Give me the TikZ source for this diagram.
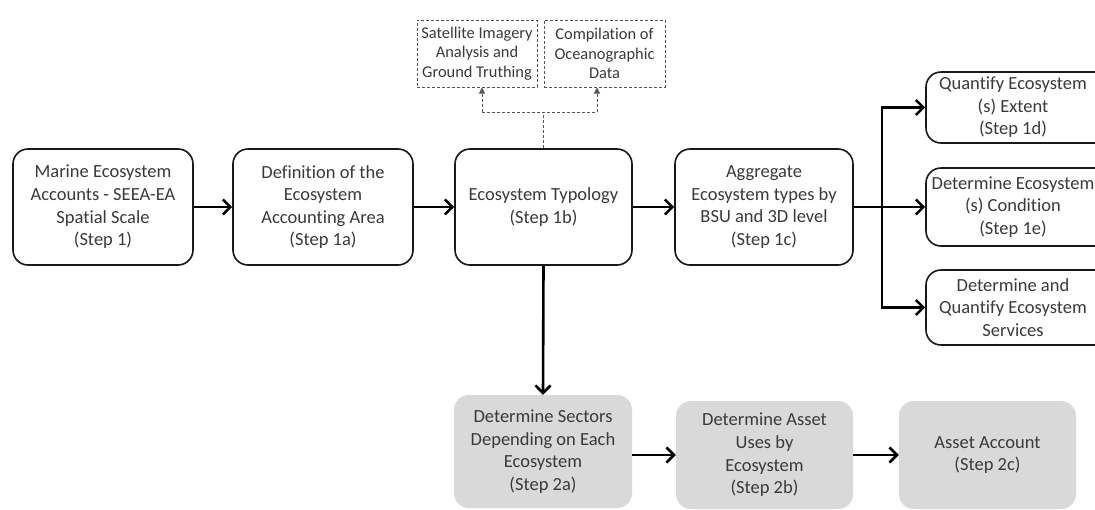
\documentclass[tikz,border=0pt]{standalone}
\usepackage{fontspec}
\setmainfont{Carlito}[Ligatures={NoCommon}]
\usetikzlibrary{arrows.meta,calc}
\definecolor{txt}{HTML}{3A3A3A}
\definecolor{boxgray}{HTML}{D9D9D9}
\definecolor{dashc}{HTML}{555555}
\tikzset{
  mainbox/.style={draw=black!90, line width=1.6pt, rounded corners=15pt, align=center,
    text=txt, inner sep=0pt, font=\fontsize{18.5}{22.6}\selectfont},
  graybox/.style={fill=boxgray, draw=none, rounded corners=15pt, align=center,
    text=txt, inner sep=0pt, font=\fontsize{18.5}{22.6}\selectfont},
  dbox/.style={draw=dashc, line width=1pt, dash pattern=on 3pt off 2pt, align=center,
    text=txt, inner sep=0pt, font=\fontsize{16.4}{19.6}\selectfont},
  arr/.style={line width=2.6pt, -{Straight Barb[length=7.5pt,width=15pt,line width=2.6pt]}},
  plain/.style={line width=2.6pt},
  dline/.style={draw=dashc, line width=1pt, dash pattern=on 3pt off 2pt},
  darr/.style={dline, -{Triangle[length=6pt,width=6pt]}}
}
\begin{document}
\begin{tikzpicture}[x=1pt,y=-1pt]
\useasboundingbox (0,0) rectangle (1095,509);
\clip (0,0) rectangle (1095,509);
\fill[white] (0,0) rectangle (1095,509);

% main row
\node[mainbox, minimum width=180pt, minimum height=116pt] (b1) at (103,207)
  {Marine Ecosystem\\Accounts - SEEA-EA\\Spatial Scale\\(Step 1)};
\node[mainbox, minimum width=180pt, minimum height=116pt] (b2) at (323,207)
  {Definition of the\\Ecosystem\\Accounting Area\\(Step 1a)};
\node[mainbox, minimum width=177pt, minimum height=116pt] (b3) at (543.5,207)
  {Ecosystem Typology\\(Step 1b)};
\node[mainbox, minimum width=178pt, minimum height=116pt] (b4) at (764,207)
  {Aggregate\\Ecosystem types by\\BSU and 3D level\\(Step 1c)};

% dashed boxes
\node[dbox, minimum width=120pt, minimum height=67pt] (sat) at (477,53.5)
  {Satellite Imagery\\Analysis and\\Ground Truthing};
\node[dbox, minimum width=121pt, minimum height=67pt] (comp) at (604.5,53.5)
  {Compilation of\\Oceanographic\\Data};

% right boxes (cut by the right edge)
\node[mainbox, minimum width=184pt, minimum height=71pt] (d) at (1018,107.5)
  {\hspace*{-10pt}Quantify Ecosystem\\\hspace*{-10pt}(s) Extent\\\hspace*{-10pt}(Step 1d)};
\node[mainbox, minimum width=184pt, minimum height=78pt] (e) at (1018,207)
  {\hspace*{-10pt}Determine Ecosystem\\\hspace*{-10pt}(s) Condition\\\hspace*{-10pt}(Step 1e)};
\node[mainbox, minimum width=184pt, minimum height=75pt] (f) at (1018,307.5)
  {\hspace*{-10pt}Determine and\\\hspace*{-10pt}Quantify Ecosystem\\\hspace*{-10pt}Services};

% bottom row
\node[graybox, minimum width=178pt, minimum height=113pt] (a2) at (543,451.5)
  {Determine Sectors\\Depending on Each\\Ecosystem\\(Step 2a)};
\node[graybox, minimum width=177pt, minimum height=108pt] (b2b) at (764.5,455)
  {Determine Asset\\Uses by\\Ecosystem\\(Step 2b)};
\node[graybox, minimum width=177pt, minimum height=108pt] (c2) at (987.5,455)
  {Asset Account\\(Step 2c)};

% connectors main row
\draw[arr] (b1.east) -- (b2.west);
\draw[arr] (b2.east) -- (b3.west);
\draw[arr] (b3.east) -- (b4.west);

% branch
\coordinate (br) at (882,207);
\draw[plain] (b4.east) -- (br);
\draw[arr] (br) -- (e.west);
\draw[arr, rounded corners=0pt] (br) |- (d.west);
\draw[arr, rounded corners=0pt] (br) |- (f.west);

% dashed connectors
\coordinate (dl) at (482,112);
\coordinate (dr) at (597,112);
\draw[dline] (b3.north) -- (b3.north |- dl);
\draw[dline] (dl) -- (dr);
\draw[darr] (dl) -- (dl |- sat.south);
\draw[darr] (dr) -- (dr |- comp.south);

% down arrow
\draw[arr] (b3.south) -- (a2.north);

% bottom arrows
\draw[arr] (a2.east |- b2b.west) -- (b2b.west);
\draw[arr] (b2b.east) -- (c2.west);
\end{tikzpicture}
\end{document}
